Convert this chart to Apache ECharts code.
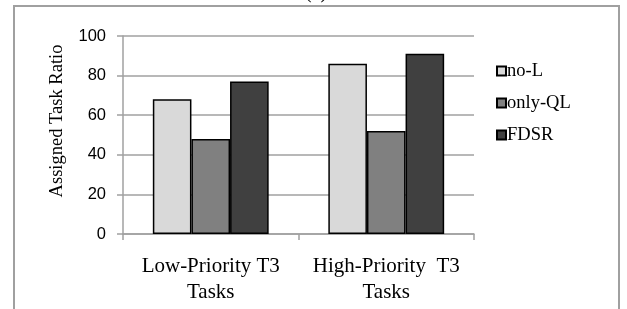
<!DOCTYPE html>
<html>
<head>
<meta charset="utf-8">
<script src="https://cdn.jsdelivr.net/npm/echarts@6/dist/echarts.min.js"></script>
<style>
  html, body { margin: 0; padding: 0; background: #fff; }
  #chart { width: 627px; height: 309px; }
</style>
</head>
<body>
<div id="chart"></div>
<script>
const categories = ['Low-Priority T3\nTasks', 'High-Priority  T3\nTasks']
const seriesNames = ['no-L', 'only-QL', 'FDSR']
const noL = [68, 86]
const onlyQL = [48, 52]
const fdsr = [77, 91]
const colors = ['#d9d9d9', '#808080', '#404040']

const chart = echarts.init(document.getElementById('chart'))

const serif = 'Liberation Serif'
const sans = 'Liberation Sans'

chart.setOption({
  backgroundColor: '#fff',
  animation: false,
  graphic: [
    {
      type: 'rect',
      shape: { x: 14, y: 6, width: 605, height: 330 },
      style: { fill: 'none', stroke: '#a0a0a0', lineWidth: 2 },
      silent: true,
    },
    {
      type: 'text',
      x: 305,
      y: -17,
      style: { text: '(a)', fontFamily: serif, fontSize: 20, fill: '#000' },
      silent: true,
    },
  ],
  grid: {
    left: 123,
    right: 153,
    top: 36,
    bottom: 75,
  },
  legend: {
    orient: 'vertical',
    left: 491,
    top: 56,
    itemWidth: 9,
    itemHeight: 9,
    itemGap: 12,
    icon: 'rect',
    data: seriesNames,
    textStyle: {
      fontFamily: serif,
      fontSize: 18.5,
      lineHeight: 20,
      color: '#000',
      padding: [0, 0, 0, -4],
    },
  },
  xAxis: {
    type: 'category',
    data: categories,
    axisLine: { lineStyle: { color: '#a0a0a0', width: 1.5 } },
    axisTick: { show: true, length: 6, lineStyle: { color: '#a0a0a0', width: 1.5 } },
    axisLabel: {
      interval: 0,
      fontFamily: serif,
      fontSize: 21,
      color: '#000',
      lineHeight: 26,
      margin: 19,
    },
  },
  yAxis: {
    type: 'value',
    min: 0,
    max: 100,
    interval: 20,
    name: 'Assigned Task Ratio',
    nameLocation: 'middle',
    nameRotate: 90,
    nameGap: 56,
    nameTextStyle: { fontFamily: serif, fontSize: 18.5, color: '#000', padding: [0, 0, 0, 28] },
    axisLine: { show: true, lineStyle: { color: '#a0a0a0', width: 1.5 } },
    axisTick: { show: true, length: 6, lineStyle: { color: '#a0a0a0', width: 1.5 } },
    axisLabel: { fontFamily: sans, fontSize: 16.5, color: '#000', margin: 17 },
    splitLine: { lineStyle: { color: '#a0a0a0', width: 1.5 } },
  },
  series: [noL, onlyQL, fdsr].map((values, i) => ({
    name: seriesNames[i],
    type: 'bar',
    data: values,
    barGap: '0%',
    barCategoryGap: '34%',
    itemStyle: { color: colors[i], borderColor: '#000', borderWidth: 1.5 },
  })),
})
</script>
</body>
</html>
